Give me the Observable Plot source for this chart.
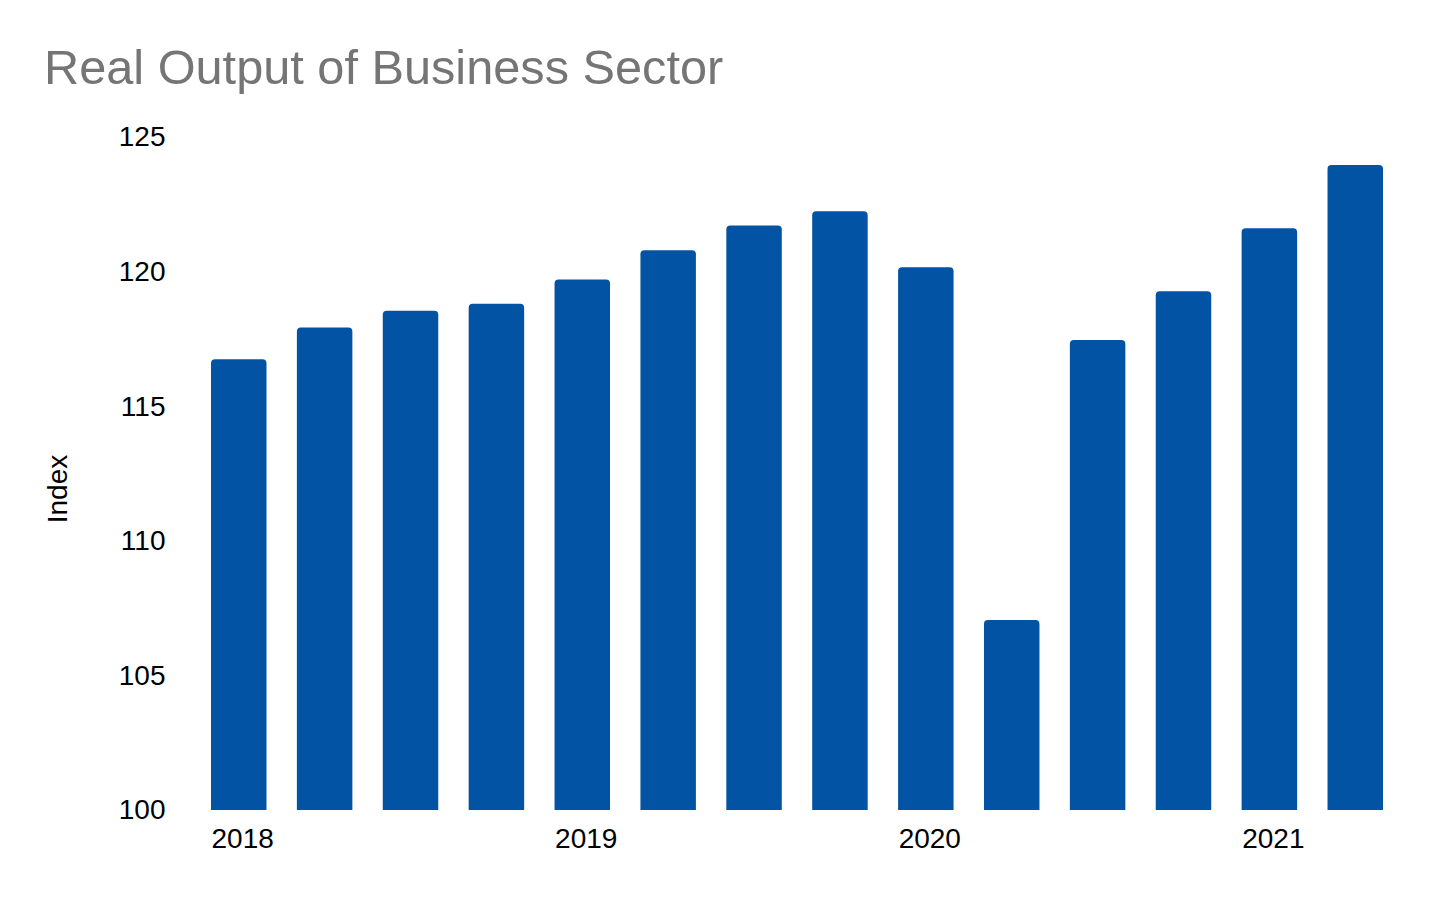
<!DOCTYPE html>
<html>
<head>
<meta charset="utf-8">
<script src="https://cdn.jsdelivr.net/npm/d3@7"></script>
<script src="https://cdn.jsdelivr.net/npm/@observablehq/plot@0.6"></script>
<style>
  html, body { margin: 0; padding: 0; background: #fff; }
  #wrap { position: relative; width: 1456px; height: 900px; font-family: "Liberation Sans", Arial, sans-serif; }
  #title { position: absolute; left: 44px; top: 43px; margin: 0; font-size: 48.7px; line-height: 48px; font-weight: normal; color: #757575; white-space: nowrap; }
  #chart { position: absolute; left: 0; top: 0; }
</style>
</head>
<body>
<div id="wrap">
  <div id="chart"></div>
  <h1 id="title">Real Output of Business Sector</h1>
</div>
<script>
const quarters = ["2018 Q1","2018 Q2","2018 Q3","2018 Q4","2019 Q1","2019 Q2","2019 Q3","2019 Q4","2020 Q1","2020 Q2","2020 Q3","2020 Q4","2021 Q1","2021 Q2"];
const values = [116.74, 117.92, 118.55, 118.81, 119.71, 120.79, 121.71, 122.24, 120.16, 107.06, 117.46, 119.27, 121.61, 123.96];
const yTicks = [100, 105, 110, 115, 120, 125];
const xTicks = quarters.filter(q => q.endsWith("Q1"));
const yLabel = ["Index"];

const data = quarters.map((q, i) => ({quarter: q, value: values[i]}));

const chart = Plot.plot({
  width: 1456,
  height: 900,
  marginTop: 137,
  marginBottom: 90,
  marginLeft: 211,
  marginRight: 73,
  style: {fontFamily: "'Liberation Sans', Arial, sans-serif", fontSize: "28px", color: "#000", background: "#fff"},
  x: {domain: quarters, paddingInner: 0.354, paddingOuter: 0, round: false, axis: null},
  y: {domain: [100, 125], axis: null},
  marks: [
    Plot.barY(data, {x: "quarter", y1: 100, y2: "value", fill: "#0353A4", ry1: 4}),
    Plot.axisY({ticks: yTicks, tickSize: 0, tickPadding: 46, label: null, fontSize: 28}),
    Plot.axisX({ticks: xTicks, tickSize: 0, tickPadding: 18, label: null, fontSize: 28,
      tickFormat: d => d.slice(0, 4), textAnchor: "start", dx: -27.7}),
    Plot.text(yLabel, {text: d => d, frameAnchor: "left", textAnchor: "middle", rotate: -90, dx: -153, dy: 15, fontSize: 28, fill: "#000"})
  ]
});
document.getElementById("chart").appendChild(chart);
</script>
</body>
</html>
